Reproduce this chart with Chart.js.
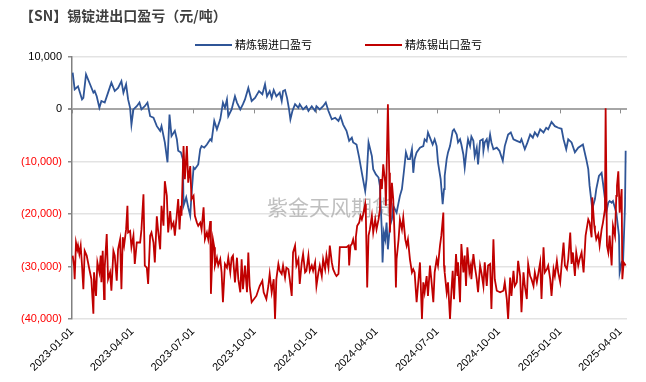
<!DOCTYPE html>
<html>
<head>
<meta charset="utf-8">
<script src="https://cdn.jsdelivr.net/npm/chart.js@4.4.1/dist/chart.umd.min.js"></script>
<style>
html,body{margin:0;padding:0;background:#fff;}
canvas{display:block;}
</style>
</head>
<body>
<canvas id="c" width="646" height="382"></canvas>
<script>
const chartTitle = '【SN】锡锭进出口盈亏（元/吨）';
const seriesNames = ['精炼锡进口盈亏', '精炼锡出口盈亏'];
const watermarkText = '紫金天风期货';
const startDate = '2023-01-01';
const tickLabels = ['2023-01-01','2023-04-01','2023-07-01','2023-10-01','2024-01-01','2024-04-01','2024-07-01','2024-10-01','2025-01-01','2025-04-01'];
const yTicks = [10000, 0, -10000, -20000, -30000, -40000];

// days since 2023-01-01
const importDays = [1,4,9,15,17,21,27,32,34,37,41,44,49,54,59,64,69,74,77,81,84,87,89,92,97,101,104,109,113,117,122,127,132,134,139,143,146,149,154,157,159,163,166,167,171,174,177,179,182,184,189,192,194,198,202,207,209,213,217,222,226,229,232,234,239,244,247,252,256,259,264,269,274,280,285,289,292,296,299,302,306,311,314,316,319,322,325,327,330,334,339,341,346,351,354,359,364,366,371,376,380,384,389,394,399,402,406,411,415,419,421,426,430,434,439,441,444,449,451,455,459,461,464,465,467,469,471,473,476,479,481,486,491,494,497,500,503,506,509,511,513,516,521,526,528,531,533,536,540,543,546,548,552,555,557,558,561,563,566,570,572,576,578,581,583,586,588,591,593,596,598,601,603,606,608,611,615,616,618,621,623,626,628,631,636,640,645,648,653,657,661,666,671,673,678,682,686,690,693,697,701,706,710,713,718,723,728,733,736,740,743,748,753,758,765,770,773,775,779,783,785,789,793,795,798,800,803,805,808,810,815,819,820,823,825,828,829];
const importValues = [7000,3800,4400,1900,2200,6700,4800,3200,3500,2500,300,1600,1300,3200,5100,3500,4100,5400,3200,4800,1900,300,-2900,0,600,1300,0,600,1300,-1300,-1600,-3200,-4100,-3200,-6300,-10100,-1000,-5100,-4100,-5700,-7900,-8200,-9500,-18400,-16800,-18700,-20300,-16200,-11100,-11400,-10500,-7600,-7000,-7300,-6700,-5700,-6000,-2200,-3800,-1900,1300,300,1900,-1300,0,2500,1300,0,1000,1900,4100,1600,2200,3500,2900,4800,2500,3500,2200,3700,2500,3200,1600,3500,3700,2200,0,-1900,-300,1000,300,1000,0,600,-300,600,-300,600,0,600,1300,-300,-1900,-1600,-2200,-1300,-2900,-4100,-6000,-5400,-6300,-6700,-9200,-12100,-15600,-13300,-6300,-8900,-11400,-12400,-13000,-14600,-23500,-29200,-23500,-24800,-21600,-26700,-22200,-21000,-18400,-19700,-16500,-15200,-11800,-8200,-9500,-9500,-7600,-12100,-9500,-8200,-7300,-7000,-5700,-6100,-4400,-5400,-6700,-5700,-7000,-10100,-13300,-18100,-15200,-12700,-9500,-8200,-7000,-4100,-3800,-4800,-6300,-5700,-6700,-8600,-11100,-7600,-5700,-7000,-5200,-6000,-8900,-7300,-10500,-6000,-5700,-7900,-6300,-5700,-7300,-4800,-6300,-7600,-7300,-7900,-9800,-7000,-4800,-4400,-5700,-6000,-6300,-5700,-7600,-6300,-4800,-5400,-4400,-5100,-3800,-4400,-3500,-3800,-2400,-3200,-3500,-3700,-5700,-7600,-5700,-6300,-8200,-7300,-6700,-9500,-11400,-14600,-19000,-17100,-15200,-12700,-12100,-14000,-17100,-19600,-17800,-17500,-17800,-17500,-19700,-24100,-31100,-29200,-29500,-18400,-7900];

const exportDays = [1,3,4,6,8,9,11,13,15,17,19,22,26,29,32,33,36,38,41,43,44,46,48,49,52,54,57,59,62,64,67,69,72,74,76,78,81,83,84,87,89,92,94,97,102,104,107,109,112,114,117,119,122,124,127,129,132,134,137,139,142,144,147,149,152,154,157,159,161,163,164,167,169,172,174,177,179,182,184,187,189,192,194,197,199,202,204,207,208,211,213,214,217,219,222,224,226,229,232,234,237,239,241,244,247,249,252,254,256,259,262,264,266,269,276,281,285,287,291,294,296,299,302,304,306,309,311,314,316,319,321,324,326,329,331,334,336,339,341,344,346,349,351,354,356,359,361,364,366,369,371,374,376,379,381,384,386,389,391,394,396,399,401,406,411,414,415,417,419,421,424,425,427,430,432,434,436,439,440,442,444,446,449,451,454,456,459,461,462,464,466,469,470,473,475,476,479,481,484,485,486,489,491,494,496,499,501,503,506,509,511,513,516,518,521,524,526,528,531,533,536,538,541,543,546,548,551,553,556,557,558,561,563,566,568,570,572,575,577,578,581,583,586,588,590,592,595,597,598,601,603,606,608,611,613,616,618,621,623,626,628,631,633,636,641,646,648,651,653,656,658,661,663,666,668,671,673,676,678,681,683,686,688,691,693,696,701,703,706,708,711,713,716,718,721,723,726,728,731,733,736,738,741,743,746,748,750,753,755,758,760,763,766,769,773,775,778,779,782,783,785,788,790,793,795,798,799,801,803,805,808,810,813,815,816,818,820,823,824,826,829];
const exportValues = [-27900,-29800,-32400,-25400,-26700,-26000,-27600,-26000,-29800,-34300,-27000,-27900,-30500,-32400,-39000,-31100,-35600,-29200,-31100,-27900,-33000,-27000,-36200,-30200,-23800,-32400,-31100,-34600,-27000,-27900,-32700,-26700,-24800,-34300,-24400,-26000,-22900,-18400,-23500,-23200,-26300,-24100,-29500,-25400,-25400,-22900,-16200,-29800,-30200,-33300,-24100,-23500,-25400,-29200,-20400,-23200,-26700,-18400,-22200,-13700,-16500,-23500,-19400,-22500,-21600,-24100,-20000,-17100,-22900,-18400,-20300,-7000,-13300,-7000,-14000,-10800,-17100,-16500,-20300,-21600,-22200,-21600,-22900,-18700,-24800,-23500,-24800,-21300,-35200,-24800,-26300,-29800,-28300,-29800,-28600,-31100,-36800,-29500,-30200,-28300,-31100,-28300,-27900,-33000,-28300,-32400,-34900,-28600,-34300,-29800,-34900,-27300,-33700,-36800,-35600,-33700,-32700,-34900,-36200,-33700,-31400,-34900,-32400,-40000,-32400,-29500,-30800,-31400,-29800,-32100,-30200,-30500,-32400,-35600,-27300,-26000,-29800,-28600,-33300,-29200,-27600,-31100,-30800,-27900,-30800,-29800,-30800,-29200,-33700,-31100,-29800,-31800,-28600,-30500,-27900,-30200,-26000,-29200,-30500,-31400,-31800,-31400,-26300,-26300,-26300,-26000,-29800,-26000,-25700,-24800,-26700,-24400,-22200,-21600,-20300,-21000,-20000,-18100,-20300,-34000,-24100,-22900,-20300,-23500,-21000,-22900,-21000,-19100,-13300,-15200,-10500,-14000,-18400,1000,-12100,-23500,-14000,-17100,-27900,-34000,-28600,-24800,-21000,-22900,-20600,-24800,-26000,-24800,-28600,-31100,-30500,-31100,-36800,-33700,-29200,-40000,-33000,-34900,-31800,-35600,-29800,-32400,-36800,-31100,-28600,-29800,-26000,-24100,-19700,-29800,-31100,-34900,-33000,-40000,-34900,-30800,-36200,-27600,-31800,-29200,-36800,-25700,-31100,-27900,-33700,-26300,-31100,-29800,-32400,-27600,-29800,-32400,-34900,-29800,-31100,-33700,-29200,-33700,-29800,-29500,-38100,-24800,-32400,-34600,-34900,-34600,-33000,-36200,-40000,-32100,-35600,-30800,-33700,-33000,-28900,-31800,-38700,-31100,-33700,-36200,-29500,-31800,-32400,-33700,-31100,-33000,-29200,-36200,-26300,-31100,-30500,-29800,-32400,-35600,-30500,-31800,-28900,-31100,-33000,-29800,-25400,-29800,-30500,-28600,-23500,-29500,-27300,-31800,-27300,-29800,-28600,-27300,-31100,-24100,-21000,-21600,-24400,-16800,-22200,-23200,-24800,-23800,-26000,-22900,-21600,-19100,200,-26000,-27300,-24100,-29800,-22200,-24100,-16500,-14600,-11800,-19700,-15200,-32400,-29200,-29800];

const dayOf = s => (Date.UTC(+s.slice(0,4), +s.slice(5,7)-1, +s.slice(8,10)) - Date.UTC(+startDate.slice(0,4), +startDate.slice(5,7)-1, +startDate.slice(8,10))) / 864e5;
const tickDays = tickLabels.map(dayOf);
const toPts = (d, v) => d.map((x, i) => ({x: x, y: v[i]}));

const FONT = '"Liberation Sans", Arial, sans-serif';
const CJK = '"Noto Sans CJK SC", "Noto Sans", sans-serif';

const fmt = v => v < 0 ? '(' + (-v).toLocaleString('en-US') + ')' : v.toLocaleString('en-US');

const decor = {
  id: 'decor',
  beforeDatasetsDraw(chart) {
    const ctx = chart.ctx;
    const xs = chart.scales.x, ys = chart.scales.y;
    ctx.save();
    // watermark
    ctx.font = '21px ' + CJK;
    ctx.fillStyle = 'rgba(170,170,170,0.75)';
    ctx.textAlign = 'center';
    ctx.textBaseline = 'middle';
    ctx.fillText(watermarkText, 330, 207);
    // tick marks on the zero line
    const y0 = ys.getPixelForValue(0);
    ctx.strokeStyle = '#8c8c8c';
    ctx.lineWidth = 1;
    tickDays.forEach(d => {
      const px = Math.round(xs.getPixelForValue(d)) + 0.5;
      ctx.beginPath();
      ctx.moveTo(px, y0);
      ctx.lineTo(px, y0 + 4);
      ctx.stroke();
    });
    ctx.restore();
  },
  afterDraw(chart) {
    const ctx = chart.ctx;
    ctx.save();
    // title
    ctx.font = 'bold 14px ' + CJK;
    ctx.fillStyle = '#404040';
    ctx.textAlign = 'left';
    ctx.textBaseline = 'middle';
    ctx.fillText(chartTitle, 20, 16);
    // legend
    const lx = [195, 365];
    ctx.font = '11px ' + CJK;
    chart.data.datasets.forEach((ds, i) => {
      ctx.strokeStyle = ds.borderColor;
      ctx.lineWidth = 2;
      ctx.beginPath();
      ctx.moveTo(lx[i], 45);
      ctx.lineTo(lx[i] + 37, 45);
      ctx.stroke();
      ctx.fillStyle = '#000';
      ctx.fillText(ds.label, lx[i] + 40, 45);
    });
    ctx.restore();
  }
};

new Chart(document.getElementById('c'), {
  type: 'line',
  data: {
    datasets: [
      {label: seriesNames[0], data: toPts(importDays, importValues), borderColor: '#2F5597', borderWidth: 1.8, pointRadius: 0, tension: 0, order: 0},
      {label: seriesNames[1], data: toPts(exportDays, exportValues), borderColor: '#C00000', borderWidth: 1.8, pointRadius: 0, tension: 0, order: -1}
    ]
  },
  options: {
    responsive: false,
    devicePixelRatio: 1,
    animation: false,
    layout: {padding: {top: 57, right: 19, bottom: 0, left: 0}},
    plugins: {legend: {display: false}, title: {display: false}, tooltip: {enabled: false}},
    scales: {
      x: {
        type: 'linear',
        min: 0,
        max: 831,
        afterBuildTicks: s => { s.ticks = tickDays.map(v => ({value: v})); },
        afterFit: s => { s.height = 63; },
        grid: {display: false, drawTicks: false},
        border: {display: false},
        ticks: {
          autoSkip: false,
          minRotation: 45,
          maxRotation: 45,
          padding: 6,
          color: '#000',
          font: {family: FONT, size: 11},
          callback: (v) => { const i = tickDays.indexOf(v); return i >= 0 ? tickLabels[i] : ''; }
        }
      },
      y: {
        min: -40000,
        max: 10000,
        afterBuildTicks: s => { s.ticks = yTicks.map(v => ({value: v})); },
        afterFit: s => { s.width = 72; },
        grid: {
          color: c => c.tick && c.tick.value === 0 ? '#a6a6a6' : '#e3e3e3',
          lineWidth: c => c.tick && c.tick.value === 0 ? 2 : 1.5,
          tickColor: '#8c8c8c',
          tickLength: 4
        },
        border: {color: '#808080', width: 1.5},
        ticks: {
          padding: 6,
          color: c => c.tick.value < 0 ? '#ff0000' : '#000',
          font: {family: FONT, size: 11},
          callback: v => fmt(v)
        }
      }
    }
  },
  plugins: [decor]
});
</script>
</body>
</html>
